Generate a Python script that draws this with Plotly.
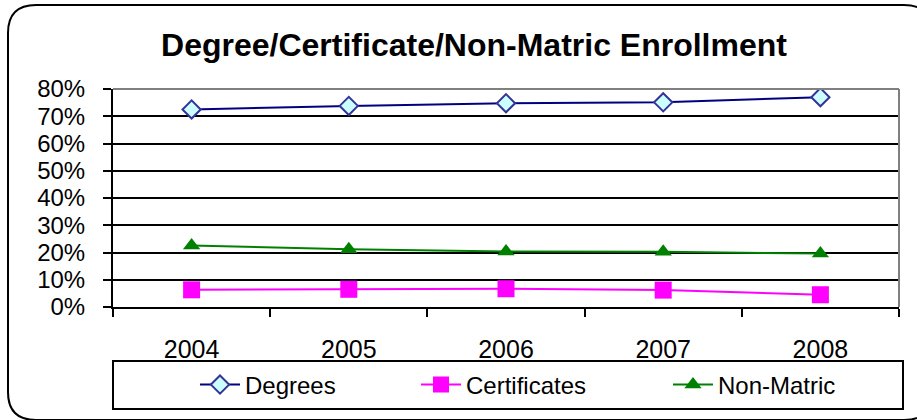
import plotly.graph_objects as go

# ── Data ──────────────────────────────────────────────────────────────────────

YEARS = ["2004", "2005", "2006", "2007", "2008"]
DEGREES = [0.725, 0.738, 0.748, 0.751, 0.770]
CERTIFICATES = [0.063, 0.065, 0.067, 0.062, 0.045]
NON_MATRIC = [0.226, 0.212, 0.204, 0.203, 0.196]

TITLE = "Degree/Certificate/Non-Matric Enrollment"

# ── Geometry helpers (pixel -> paper) ─────────────────────────────────────────

W, H = 917, 420
PL, PR, PT, PB = 113, 899, 89, 307   # plot area in pixels


def px(x):
    return (x - PL) / (PR - PL)


def py(y):
    return (PB - y) / (PB - PT)


def _frame_path(x0, y0, x1, y1, r):
    """Rounded rectangle in paper coords."""
    return (
        f"M{px(x0)},{py(y0 + r)} Q{px(x0)},{py(y0)} {px(x0 + r)},{py(y0)} "
        f"L{px(x1 - r)},{py(y0)} Q{px(x1)},{py(y0)} {px(x1)},{py(y0 + r)} "
        f"L{px(x1)},{py(y1 - r)} Q{px(x1)},{py(y1)} {px(x1 - r)},{py(y1)} "
        f"L{px(x0 + r)},{py(y1)} Q{px(x0)},{py(y1)} {px(x0)},{py(y1 - r)} Z"
    )


def _legend(x_px):
    """One single-entry legend per series, placed at a pixel x inside the box."""
    return dict(
        orientation="h",
        x=px(x_px), y=py(385), xanchor="left", yanchor="middle",
        xref="paper", yref="paper",
        bgcolor="rgba(0,0,0,0)", borderwidth=0,
        font=dict(family=FONT, size=24, color="black"),
        itemwidth=40,
    )


FONT = "Liberation Sans, Arial, sans-serif"

# ── Traces ────────────────────────────────────────────────────────────────────

fig = go.Figure()
fig.add_trace(go.Scatter(
    x=YEARS, y=DEGREES, name="Degrees", mode="lines+markers", legend="legend",
    line=dict(color="#000080", width=2),
    marker=dict(symbol="diamond", size=14, color="#CCFFFF",
                line=dict(color="#333399", width=2)),
))
fig.add_trace(go.Scatter(
    x=YEARS, y=CERTIFICATES, name="Certificates", mode="lines+markers", legend="legend2",
    line=dict(color="#FF00FF", width=2),
    marker=dict(symbol="square", size=17, color="#FF00FF", line=dict(width=0)),
))
fig.add_trace(go.Scatter(
    x=YEARS, y=NON_MATRIC, name="Non-Matric", mode="lines+markers", legend="legend3",
    line=dict(color="#008000", width=2),
    marker=dict(symbol="triangle-up", size=15, color="#008000", line=dict(width=0)),
))

# ── Layout ────────────────────────────────────────────────────────────────────

fig.update_layout(
    width=W, height=H,
    margin=dict(l=PL, r=W - PR, t=PT, b=H - PB, autoexpand=False),
    paper_bgcolor="white", plot_bgcolor="white",
    font=dict(family=FONT, size=24, color="black"),
    title=dict(
        text=f"<b>{TITLE}</b>",
        font=dict(family=FONT, size=32, color="black"),
        xref="container", yref="container",
        x=474 / W, y=1 - 45 / H, xanchor="center", yanchor="middle",
    ),
    xaxis=dict(
        type="category", tickson="boundaries",
        showgrid=False, showline=True, linecolor="black", linewidth=2,
        ticks="outside", ticklen=8, tickwidth=2, tickcolor="black",
        ticklabelstandoff=19,
        tickfont=dict(family=FONT, size=25, color="black"),
        range=[-0.5, 4.5],
    ),
    yaxis=dict(
        range=[0, 0.8], dtick=0.1, tickformat=".0%",
        showgrid=True, gridcolor="black", gridwidth=2,
        showline=True, linecolor="black", linewidth=2,
        ticks="outside", ticklen=8, tickwidth=2, tickcolor="black",
        ticklabelstandoff=13,
        tickfont=dict(family=FONT, size=24, color="black"),
        zeroline=False,
    ),
    showlegend=True,
    legend=_legend(195),
    legend2=_legend(416),
    legend3=_legend(668),
    shapes=[
        # gray plot-area border on top and right
        dict(type="line", xref="paper", yref="paper", x0=0, x1=1, y0=1, y1=1,
             line=dict(color="#808080", width=2), layer="above"),
        dict(type="line", xref="paper", yref="paper", x0=1, x1=1, y0=0, y1=1,
             line=dict(color="#808080", width=2), layer="above"),
        # legend box
        dict(type="rect", xref="paper", yref="paper",
             x0=px(113), x1=px(903), y0=py(361), y1=py(409),
             line=dict(color="black", width=2), fillcolor="rgba(0,0,0,0)"),
        # outer chart frame
        dict(type="path", xref="paper", yref="paper",
             path=_frame_path(8, 5, 932, 420, 28),
             line=dict(color="black", width=2)),
    ],
)

# page body has a default 8px margin; drop it so the figure sits at (0, 0)
fig.write_html(
    "out.html",
    config={"displayModeBar": False},
    post_script="document.body.style.margin='0';",
)
